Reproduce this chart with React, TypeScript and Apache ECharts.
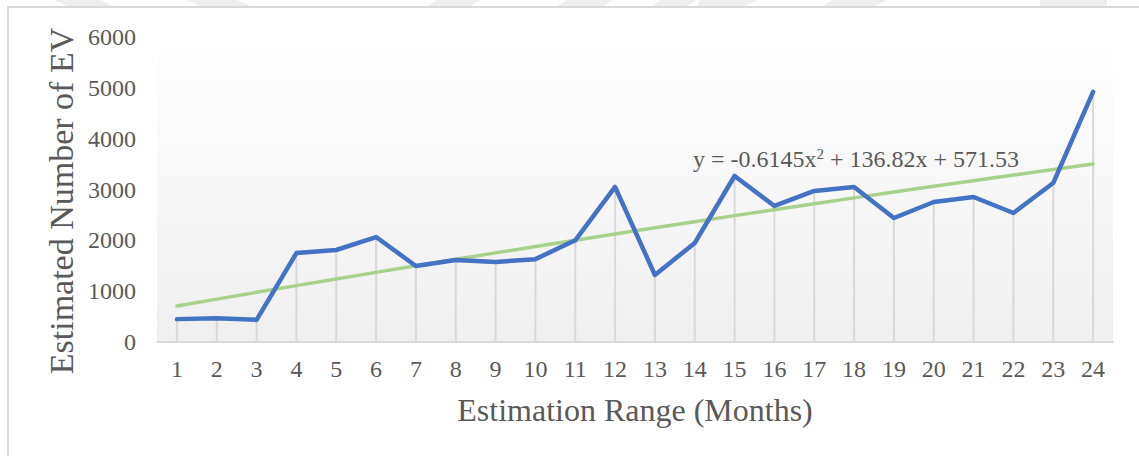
import React, { useEffect, useRef } from "react";
import * as echarts from "echarts";

const categories = ["1","2","3","4","5","6","7","8","9","10","11","12","13","14","15","16","17","18","19","20","21","22","23","24"];
const evValues = [450, 465, 435, 1750, 1810, 2065, 1495, 1613, 1574, 1630, 2000, 3050, 1318, 1948, 3266, 2676, 2971, 3050, 2440, 2754, 2853, 2538, 3128, 4920];
const trendValues = [708, 843, 977, 1109, 1240, 1370, 1499, 1627, 1753, 1878, 2002, 2125, 2246, 2367, 2486, 2603, 2720, 2835, 2949, 3062, 3174, 3284, 3393, 3501];
const yTicks = [0, 1000, 2000, 3000, 4000, 5000, 6000];
const equationText = "y = -0.6145x{sup|2} + 136.82x + 571.53";
const yTitle = "Estimated Number of EV";
const xTitle = "Estimation Range (Months)";

const FONT = "'Liberation Serif', 'Times New Roman', serif";

export default function App() {
  const ref = useRef<HTMLDivElement>(null);
  useEffect(() => {
    document.body.style.margin = "0";
    const chart = echarts.init(ref.current!, undefined, { renderer: "svg" });
    const stripes: [number, number, number, number][] = [
      [55, 100, 67, 113],
      [187, 237, 200, 250],
      [437, 480, 427, 470],
      [567, 613, 557, 603],
      [660, 697, 653, 687],
      [700, 757, 697, 745],
      [833, 887, 823, 875],
      [1040, 1107, 1040, 1107],
    ];
    chart.setOption({
      animation: false,
      backgroundColor: "#ffffff",
      textStyle: { fontFamily: FONT },
      graphic: [
        ...stripes.map((s) => ({
          type: "polygon",
          silent: true,
          shape: { points: [[s[0], 0], [s[1], 0], [s[3], 6], [s[2], 6]] },
          style: { fill: "#eeeeee" },
        })),
        {
          type: "rect",
          silent: true,
          shape: { x: 8, y: 7, width: 1200, height: 500 },
          style: { fill: "none", stroke: "#d9d9d9", lineWidth: 2 },
        },
        {
          type: "text",
          x: 61,
          y: 201,
          rotation: Math.PI / 2,
          silent: true,
          style: {
            text: yTitle,
            fill: "#595959",
            font: `34px ${FONT}`,
            align: "center",
            verticalAlign: "middle",
          },
        },
        {
          type: "text",
          x: 693,
          y: 159,
          silent: true,
          z: 100,
          style: {
            text: equationText,
            fill: "#595959",
            font: `24px ${FONT}`,
            verticalAlign: "middle",
            rich: {
              sup: { fontSize: 15, fontFamily: FONT, fill: "#595959", verticalAlign: "top", padding: [0, 0, 10, 0] },
            },
          },
        },
      ],
      grid: {
        left: 157,
        right: 26,
        top: 37,
        bottom: 114,
        show: true,
        borderWidth: 0,
        backgroundColor: new echarts.graphic.LinearGradient(0, 0, 0, 1, [
          { offset: 0, color: "#ffffff" },
          { offset: 1, color: "#efefef" },
        ]),
      },
      xAxis: {
        type: "category",
        data: categories,
        boundaryGap: true,
        name: xTitle,
        nameLocation: "middle",
        nameGap: 52,
        nameTextStyle: { fontSize: 32, color: "#595959", fontFamily: FONT },
        axisLine: { lineStyle: { color: "#d9d9d9", width: 2 } },
        axisTick: { show: false },
        axisLabel: { fontSize: 24, color: "#595959", fontFamily: FONT, margin: 15, interval: 0 },
        splitLine: { show: false },
      },
      yAxis: {
        type: "value",
        min: yTicks[0],
        max: yTicks[yTicks.length - 1],
        interval: 1000,
        axisLine: { show: false },
        axisTick: { show: false },
        axisLabel: { fontSize: 24, color: "#595959", fontFamily: FONT, margin: 21, formatter: (v: number) => String(v) },
        splitLine: { show: false },
      },
      series: [
        {
          type: "bar",
          data: evValues,
          barWidth: 2,
          silent: true,
          itemStyle: { color: "#d9d9d9" },
          z: 1,
        },
        {
          type: "line",
          name: "Estimated EV",
          data: evValues,
          symbol: "none",
          lineStyle: { color: "#4472c4", width: 4.5, cap: "round", join: "round" },
          z: 3,
        },
        {
          type: "line",
          name: "Trend",
          data: trendValues,
          symbol: "none",
          smooth: false,
          lineStyle: { color: "#a9d18e", width: 3.5, cap: "round" },
          z: 2,
        },
      ],
    });
    return () => chart.dispose();
  }, []);
  return <div ref={ref} style={{ width: 1139, height: 456 }} />;
}
